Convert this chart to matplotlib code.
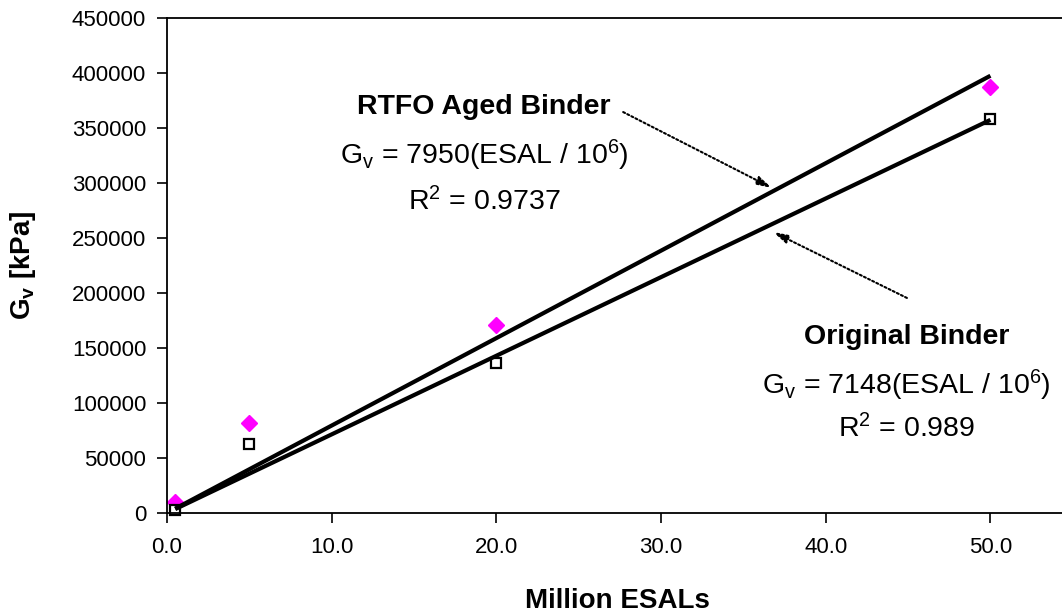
import matplotlib
matplotlib.use("Agg")
import matplotlib.pyplot as plt
import numpy as np

plt.rcParams['font.family'] = ['Liberation Sans', 'DejaVu Sans']
plt.rcParams['mathtext.fontset'] = 'custom'
plt.rcParams['mathtext.rm'] = 'Liberation Sans'
plt.rcParams['mathtext.it'] = 'Liberation Sans:italic'
plt.rcParams['mathtext.bf'] = 'Liberation Sans:bold'

# Data
esals = [0.5, 5, 20, 50]
original = [3000, 63000, 136000, 358000]
rtfo = [10000, 82000, 171000, 387000]
slope_original = 7148
slope_rtfo = 7950
fit_x = [0.5, 50]
x_ticks = [0, 10, 20, 30, 40, 50]
y_ticks = list(range(0, 450001, 50000))

fig = plt.figure(figsize=(10.62, 6.16), dpi=100)
ax = fig.add_axes([167/1062, 103/616, 900/1062, 495/616])

ax.plot(esals, rtfo, linestyle='none', marker='D', ms=8.5, color='#FF00FF',
        markeredgecolor='#FF00FF', zorder=2, clip_on=False)
ax.plot(esals, original, linestyle='none', marker='s', ms=7.5, markerfacecolor='white',
        markeredgecolor='black', mew=1.6, zorder=2, clip_on=False)

fx = np.array(fit_x)
ax.plot(fx, slope_rtfo * fx, color='black', lw=3, zorder=3, solid_capstyle='butt')
ax.plot(fx, slope_original * fx, color='black', lw=3, zorder=3, solid_capstyle='butt')

ax.set_xlim(0, 54.65)
ax.set_ylim(0, 450000)
ax.set_xticks(x_ticks)
ax.set_xticklabels([f'{v:.1f}' for v in x_ticks])
ax.set_yticks(y_ticks)
ax.set_yticklabels([str(v) for v in y_ticks])
ax.tick_params(axis='both', labelsize=16, length=7, width=1.2, direction='out', colors='black')
ax.tick_params(axis='x', pad=10)
ax.tick_params(axis='y', pad=8)
for s in ['left', 'top', 'bottom', 'right']:
    ax.spines[s].set_linewidth(1.3)
    ax.spines[s].set_color('black')

ax.set_xlabel('Million ESALs', fontsize=20, fontweight='bold', labelpad=22)
ax.set_ylabel(r'G$_\mathbf{v}$ [kPa]', fontsize=20, fontweight='bold', labelpad=24)

fs = 20.5
# RTFO annotation
ax.text(19.25, 369000, 'RTFO Aged Binder', fontsize=fs, fontweight='bold', ha='center', va='center')
ax.text(19.25, 325000, r'G$_\mathrm{v}$ = 7950(ESAL / 10$^6$)', fontsize=fs, ha='center', va='center')
ax.text(19.25, 283000, r'R$^2$ = 0.9737', fontsize=fs, ha='center', va='center')
# Original annotation
ax.text(44.9, 160000, 'Original Binder', fontsize=fs, fontweight='bold', ha='center', va='center')
ax.text(44.9, 116000, r'G$_\mathrm{v}$ = 7148(ESAL / 10$^6$)', fontsize=fs, ha='center', va='center')
ax.text(44.9, 77000, r'R$^2$ = 0.989', fontsize=fs, ha='center', va='center')

arrow_kw = dict(arrowstyle='-|>,head_length=0.9,head_width=0.25', color='black',
                lw=1.5, linestyle=(0, (1, 1.2)), shrinkA=0, shrinkB=0)
ax.annotate('', xy=(36.73, 295500), xytext=(27.7, 364500), arrowprops=arrow_kw, zorder=4)
ax.annotate('', xy=(36.8, 255500), xytext=(44.93, 195500), arrowprops=arrow_kw, zorder=4)

fig.savefig('out.png', dpi=100)
